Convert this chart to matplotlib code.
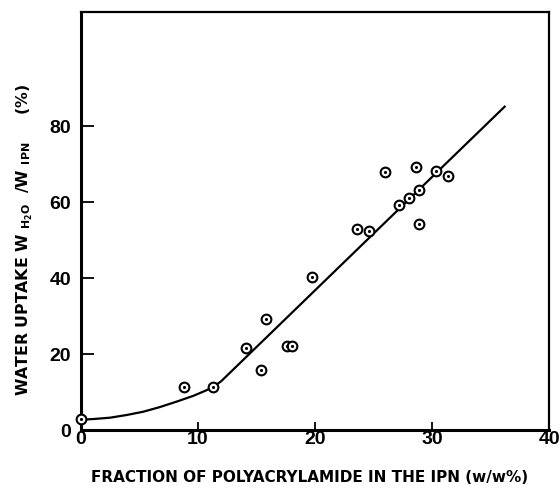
import matplotlib
matplotlib.use('Agg')
import matplotlib.pyplot as plt

# measured water uptake vs. polyacrylamide fraction
frac_pam = [0.0, 8.8, 11.3, 14.1, 15.4, 15.8, 17.6, 18.0, 19.7, 23.6, 24.6,
            26.0, 27.2, 28.0, 28.6, 28.9, 28.9, 30.3, 31.4]
uptake = [2.8, 11.3, 11.4, 21.5, 15.8, 29.2, 22.2, 22.2, 40.4, 52.8, 52.4,
          67.9, 59.2, 61.0, 69.3, 63.1, 54.1, 68.2, 66.8]

# fitted trend line (curved start, then straight)
fit_x = [0.0, 1.1, 2.5, 3.9, 5.3, 6.7, 8.2, 9.6, 10.6, 11.3, 12.0, 36.2]
fit_y = [2.7, 2.9, 3.25, 3.95, 4.8, 6.0, 7.5, 9.0, 10.3, 11.3, 12.9, 85.1]

x_ticks = [0, 10, 20, 30, 40]
y_ticks = [0, 20, 40, 60, 80]

plt.rcParams['font.family'] = 'Liberation Sans'
plt.rcParams['font.weight'] = 'bold'
plt.rcParams['mathtext.fontset'] = 'custom'
plt.rcParams['mathtext.rm'] = 'DejaVu Sans:bold'
plt.rcParams['mathtext.it'] = 'DejaVu Sans:bold'
plt.rcParams['mathtext.bf'] = 'DejaVu Sans:bold'

fig = plt.figure(figsize=(5.6, 4.91), dpi=100)
ax = fig.add_axes([0.1446, 0.1242, 0.836, 0.8513])

ax.plot(fit_x, fit_y, color='black', lw=1.6, zorder=2)
ax.plot(frac_pam, uptake, 'o', ms=7, mfc='white', mec='black', mew=1.5,
        zorder=3, clip_on=False)
ax.plot(frac_pam, uptake, '.', ms=2.5, color='black', zorder=4, clip_on=False)

ax.set_xlim(0, 40)
ax.set_ylim(0, 110)
ax.set_xticks(x_ticks)
ax.set_yticks(y_ticks)
ax.tick_params(axis='x', direction='in', length=6, width=1.3, pad=1,
               labelsize=14)
ax.tick_params(axis='y', direction='in', length=9, width=1.3, pad=7,
               labelsize=14)
for lab in ax.get_xticklabels() + ax.get_yticklabels():
    lab.set_fontweight('bold')

for side, s in ax.spines.items():
    s.set_linewidth(2.2 if side in ('left', 'bottom') else 1.6)

fig.text(0.553, 0.028, 'FRACTION OF POLYACRYLAMIDE IN THE IPN (w/w%)',
         ha='center', va='center', fontsize=11, fontweight='bold',
         family='DejaVu Sans')
fig.text(0.045, 0.511,
         r'WATER UPTAKE W $_{\mathrm{H_2O}}$  /W $_{\mathrm{IPN}}$     (%)',
         ha='center', va='center', rotation=90, fontsize=11.3,
         fontweight='bold', family='DejaVu Sans')

fig.savefig('out.png', dpi=100)
